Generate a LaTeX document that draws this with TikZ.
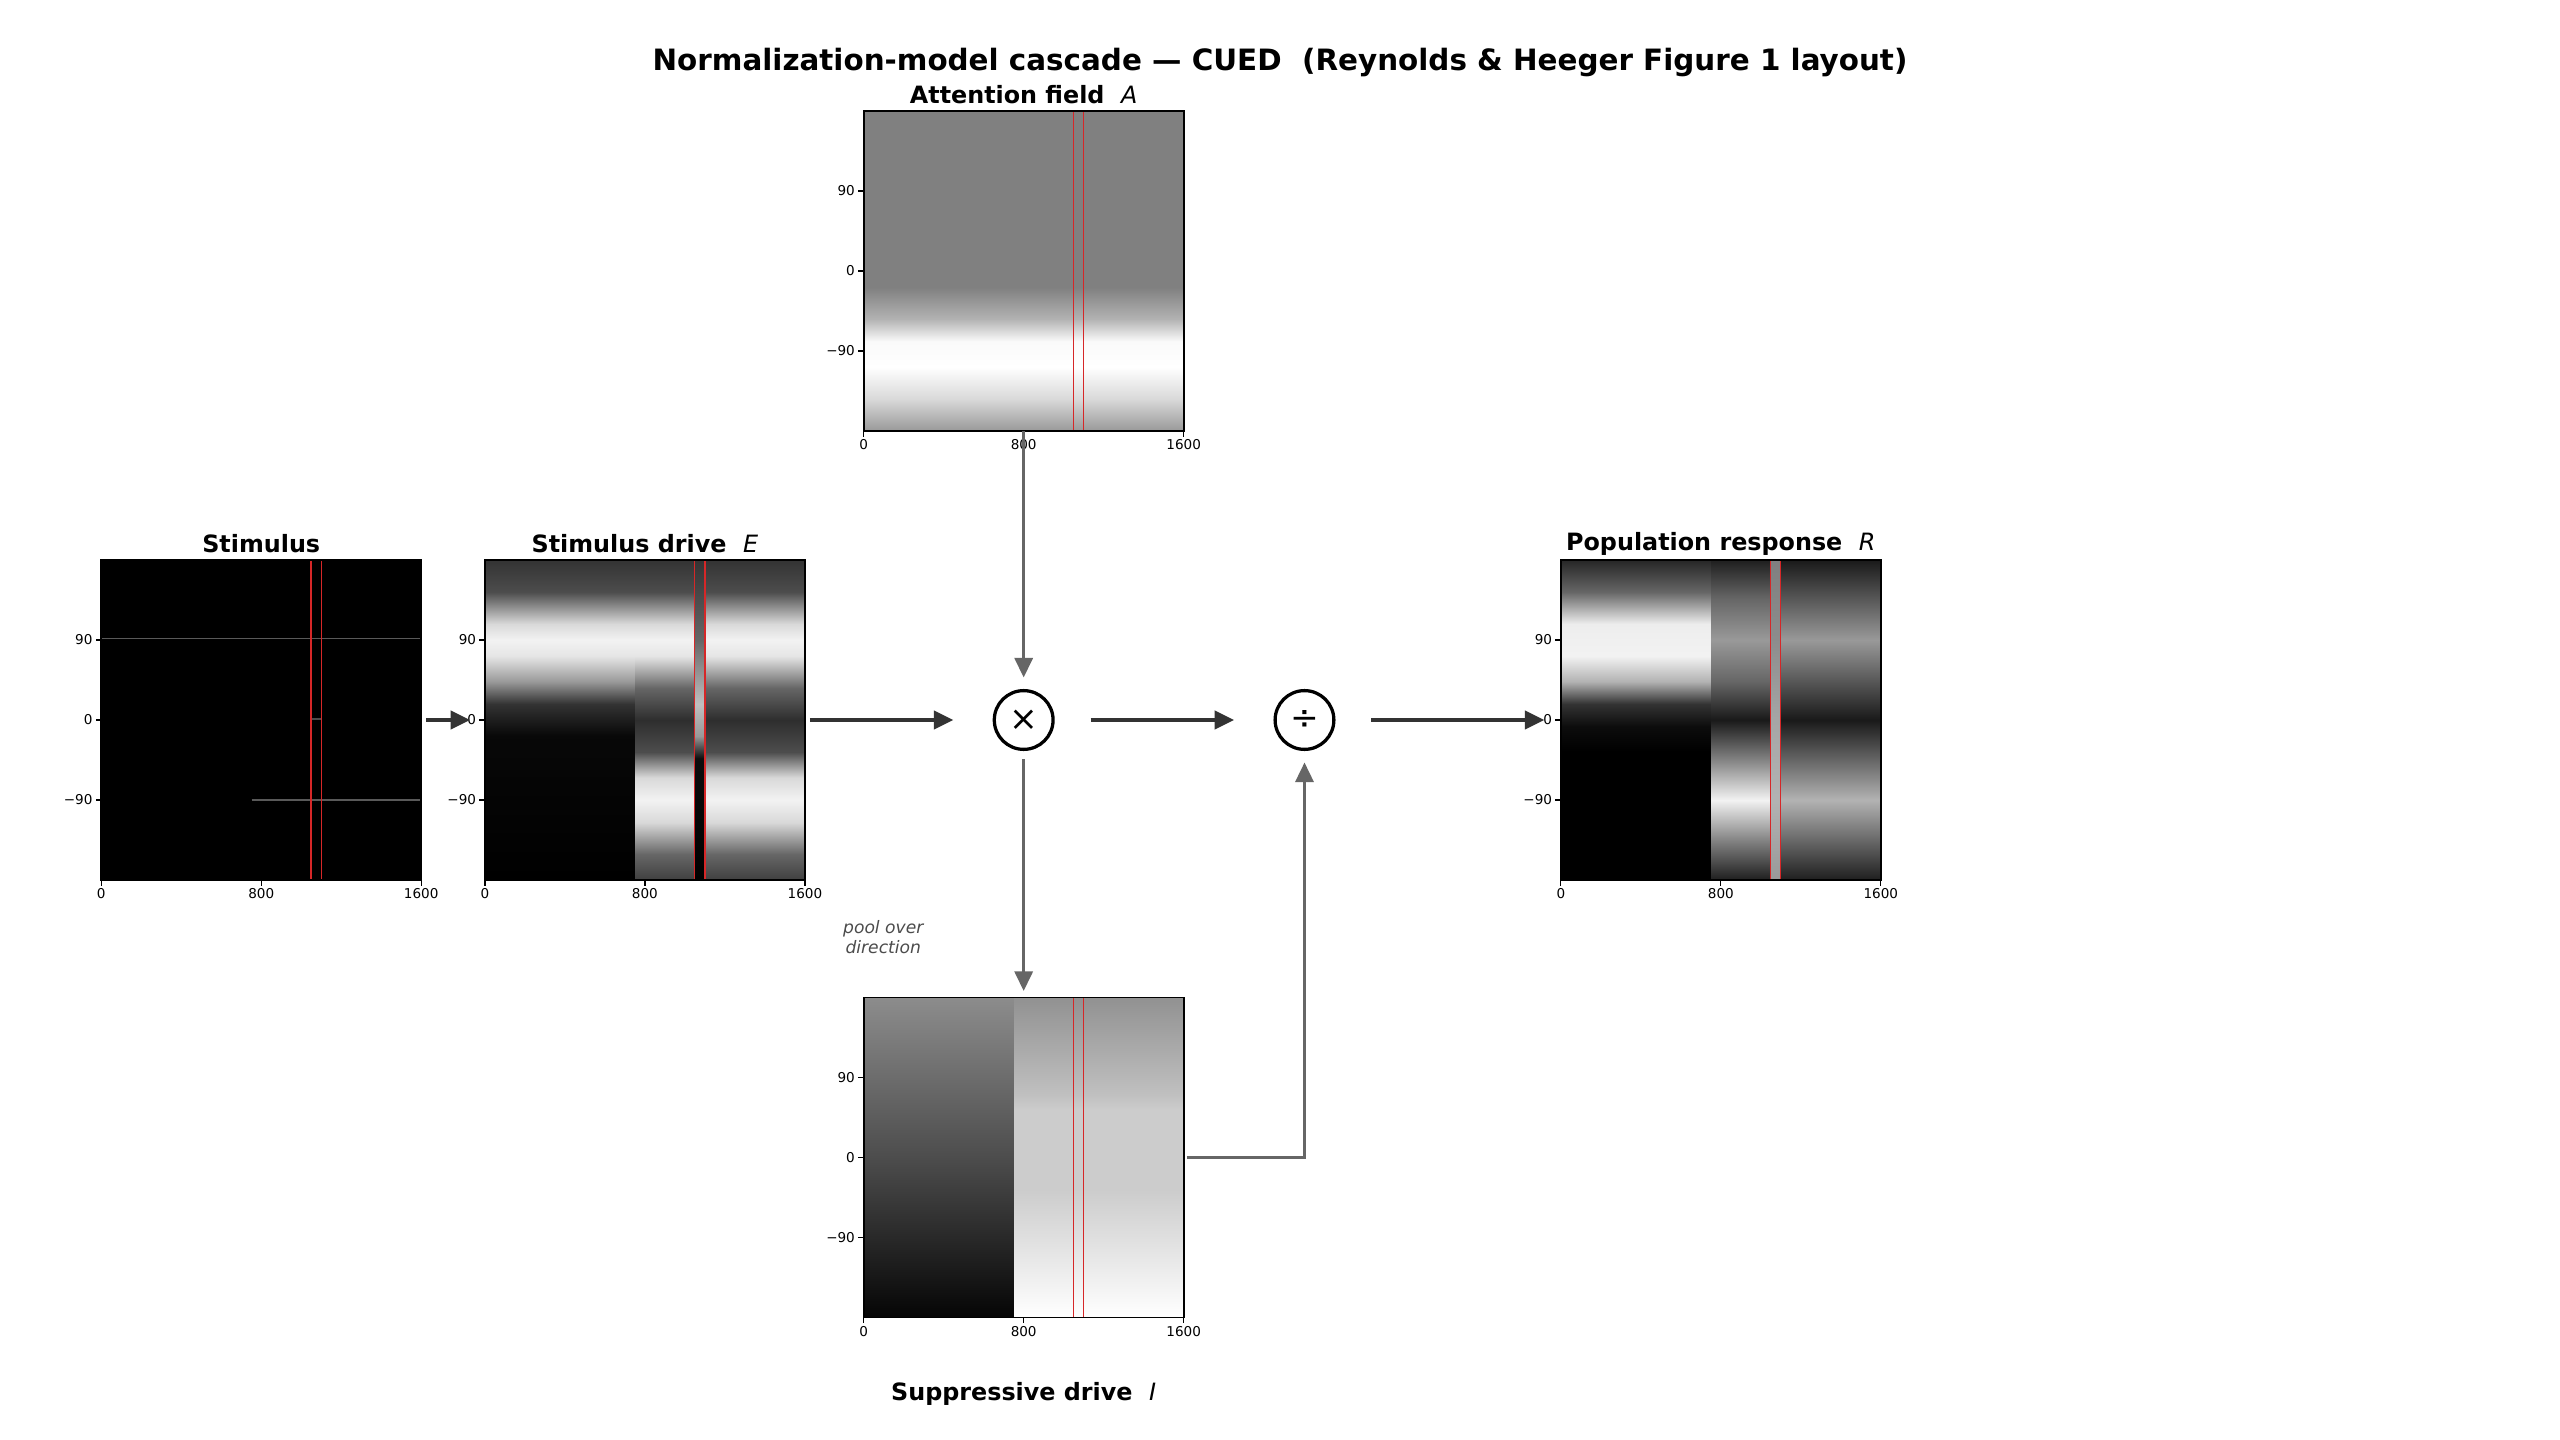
\documentclass[tikz,border=0pt]{standalone}
\usepackage{fontspec}
\setmainfont{DejaVu Sans}
\usetikzlibrary{arrows.meta}
\pgfdeclareverticalshading{Eleft}{100bp}{color(0bp)=(black); color(25bp)=(black); color(47.5bp)=(black!97); color(52.5bp)=(black!80); color(56bp)=(black!40); color(60bp)=(black!10); color(62.5bp)=(black!5); color(65bp)=(black!15); color(70bp)=(black!70); color(75bp)=(black!80); color(100bp)=(black!80)}
\pgfdeclareverticalshading{Eright}{100bp}{color(0bp)=(black!75); color(25bp)=(black!75); color(29bp)=(black!60); color(34bp)=(black!15); color(37.5bp)=(black!5); color(41bp)=(black!15); color(45bp)=(black!70); color(50bp)=(black!82); color(55bp)=(black!60); color(60bp)=(black!10); color(62.5bp)=(black!5); color(65bp)=(black!15); color(70bp)=(black!70); color(75bp)=(black!80); color(100bp)=(black!80)}
\pgfdeclareverticalshading{Emid}{100bp}{color(0bp)=(black); color(25bp)=(black); color(44bp)=(black!95); color(47.5bp)=(black!40); color(52.5bp)=(black!25); color(62.5bp)=(black!60); color(75bp)=(black!80); color(100bp)=(black!80)}
\pgfdeclareverticalshading{Aatt}{100bp}{color(0bp)=(black!40); color(25bp)=(black!40); color(30bp)=(black!15); color(35bp)=(white); color(39bp)=(black!2); color(42.5bp)=(black!30); color(47.5bp)=(black!50); color(75bp)=(black!50); color(100bp)=(black!50)}
\pgfdeclareverticalshading{Ileft}{100bp}{color(0bp)=(black!98); color(25bp)=(black!98); color(50bp)=(black!70); color(75bp)=(black!45); color(100bp)=(black!45)}
\pgfdeclareverticalshading{Iright}{100bp}{color(0bp)=(white); color(25bp)=(white); color(35bp)=(black!10); color(45bp)=(black!20); color(57.5bp)=(black!20); color(60bp)=(black!25); color(75bp)=(black!43); color(100bp)=(black!43)}
\pgfdeclareverticalshading{Rleft}{100bp}{color(0bp)=(black); color(45bp)=(black); color(49bp)=(black!95); color(52.5bp)=(black!80); color(56bp)=(black!30); color(60bp)=(black!5); color(65bp)=(black!7); color(70bp)=(black!60); color(75bp)=(black!85); color(100bp)=(black!85)}
\pgfdeclareverticalshading{Rright}{100bp}{color(0bp)=(black!88); color(25bp)=(black!88); color(31bp)=(black!50); color(37.5bp)=(black!5); color(44bp)=(black!50); color(50bp)=(black!90); color(56bp)=(black!60); color(62.5bp)=(black!40); color(69bp)=(black!60); color(75bp)=(black!88); color(100bp)=(black!88)}
\pgfdeclareverticalshading{Rfar}{100bp}{color(0bp)=(black!88); color(25bp)=(black!88); color(37.5bp)=(black!30); color(50bp)=(black!90); color(62.5bp)=(black!40); color(75bp)=(black!90); color(100bp)=(black!90)}
\pgfdeclareverticalshading{Rmid}{100bp}{color(0bp)=(black!40); color(25bp)=(black!40); color(37.5bp)=(black!30); color(50bp)=(black!35); color(62.5bp)=(black!45); color(75bp)=(black!50); color(100bp)=(black!50)}
\definecolor{redl}{HTML}{D62728}
\definecolor{dark}{HTML}{333333}
\definecolor{grayar}{HTML}{666666}
\tikzset{
  panel/.style={draw=black, line width=1pt, minimum size=196pt, inner sep=0pt, outer sep=0pt},
  ptitle/.style={font=\fontsize{14.6}{16}\selectfont\bfseries},
  tick/.style={font=\fontsize{8.3}{9}\selectfont, inner sep=1.5pt},
  darkar/.style={draw=dark, line width=2.5pt, -{Triangle[length=12pt,width=11pt]}},
  grayarr/.style={draw=grayar, line width=2pt, -{Triangle[length=12pt,width=11pt]}},
  op/.style={circle, draw=black, line width=2pt, minimum size=36pt, inner sep=0pt, font=\fontsize{21}{21}\selectfont},
}
\newcommand\pstripe[5]{\shade[shading=#5] ({#1-98+196*#3},{#2-98}) rectangle ({#1-98+196*#4},{#2+98});}
\newcommand\predl[2]{\draw[redl, line width=0.8pt] ({#1-98+196*0.656},{#2-98}) -- ++(0,196) ({#1-98+196*0.6875},{#2-98}) -- ++(0,196);}
\newcommand\pticks[2]{%
  \draw[line width=0.8pt] ({#1-98},{#2-49}) -- ++(-3.5,0) node[left,tick] {90};
  \draw[line width=0.8pt] ({#1-98},{#2}) -- ++(-3.5,0) node[left,tick] {0};
  \draw[line width=0.8pt] ({#1-98},{#2+49}) -- ++(-3.5,0) node[left,tick] {−90};
  \draw[line width=0.8pt] ({#1-98},{#2+98}) -- ++(0,3.5) node[below,tick] {0};
  \draw[line width=0.8pt] ({#1},{#2+98}) -- ++(0,3.5) node[below,tick] {800};
  \draw[line width=0.8pt] ({#1+98},{#2+98}) -- ++(0,3.5) node[below,tick] {1600};}
\begin{document}
\begin{tikzpicture}[x=1pt,y=-1pt]
\useasboundingbox[fill=white] (0,0) rectangle (1568,882);
\node[font=\fontsize{18}{19}\selectfont\bfseries] (title) at (784,38) {Normalization-model cascade — CUED\ \ (Reynolds \& Heeger Figure 1 layout)};
% Stimulus
\fill[black] (62,343) rectangle (258,539);
\draw[black!65, line width=1pt] (62,391) -- (258,391);
\draw[black!65, line width=1pt] ({62+196*0.47},490) -- (258,490);
\draw[black!70, line width=1.2pt] ({62+196*0.656},440.5) -- ({62+196*0.6875},440.5);
\predl{160}{441}
\node[panel] (stim) at (160,441) {};
\pticks{160}{441}
\node[ptitle] (stimt) at (160,333) {Stimulus};
% Stimulus drive E
\pstripe{395}{441}{0}{0.47}{Eleft}
\pstripe{395}{441}{0.47}{0.656}{Eright}
\pstripe{395}{441}{0.656}{0.6875}{Emid}
\pstripe{395}{441}{0.6875}{1}{Eright}
\predl{395}{441}
\node[panel] (drive) at (395,441) {};
\pticks{395}{441}
\node[ptitle] (drivet) at (395,333) {Stimulus drive\ \ \textmd{\itshape E}};
% Attention field A
\pstripe{627}{166}{0}{1}{Aatt}
\predl{627}{166}
\node[panel] (att) at (627,166) {};
\pticks{627}{166}
\node[ptitle] (attt) at (627,58) {Attention field\ \ \textmd{\itshape A}};
% Suppressive drive I
\pstripe{627}{709}{0}{0.47}{Ileft}
\pstripe{627}{709}{0.47}{1}{Iright}
\predl{627}{709}
\node[panel] (supp) at (627,709) {};
\pticks{627}{709}
\node[ptitle] (suppt) at (627,854) {Suppressive drive\ \ \textmd{\itshape I}};
% Population response R
\pstripe{1054}{441}{0}{0.47}{Rleft}
\pstripe{1054}{441}{0.47}{0.656}{Rright}
\pstripe{1054}{441}{0.656}{0.6875}{Rmid}
\pstripe{1054}{441}{0.6875}{1}{Rfar}
\predl{1054}{441}
\node[panel] (pop) at (1054,441) {};
\pticks{1054}{441}
\node[ptitle] (popt) at (1054,333) {Population response\ \ \textmd{\itshape R}};
% operators
\node[op] (mul) at (627,441) {×};
\node[op] (div) at (799,441) {÷};
% arrows
\draw[darkar, shorten <=3pt, shorten >=9pt] (stim.east) -- (drive.west);
\draw[darkar, shorten <=3pt, shorten >=24pt] (drive.east) -- (mul.west);
\draw[darkar, shorten <=22pt, shorten >=24pt] (mul.east) -- (div.west);
\draw[darkar, shorten <=22pt, shorten >=10pt] (div.east) -- (pop.west);
\draw[grayarr, shorten >=7pt] (att.south) -- (mul.north);
\draw[grayarr, shorten <=5pt, shorten >=4pt] (mul.south) -- (supp.north);
\coordinate (corner) at (799,709);
\draw[grayarr, shorten <=2pt, shorten >=7pt] (supp.east) -- (corner) -- (div.south);
\node[font=\fontsize{10.5}{12}\selectfont\itshape, text=black!70, align=center] (pool) at (541,574) {pool over\\direction};
\end{tikzpicture}
\end{document}
